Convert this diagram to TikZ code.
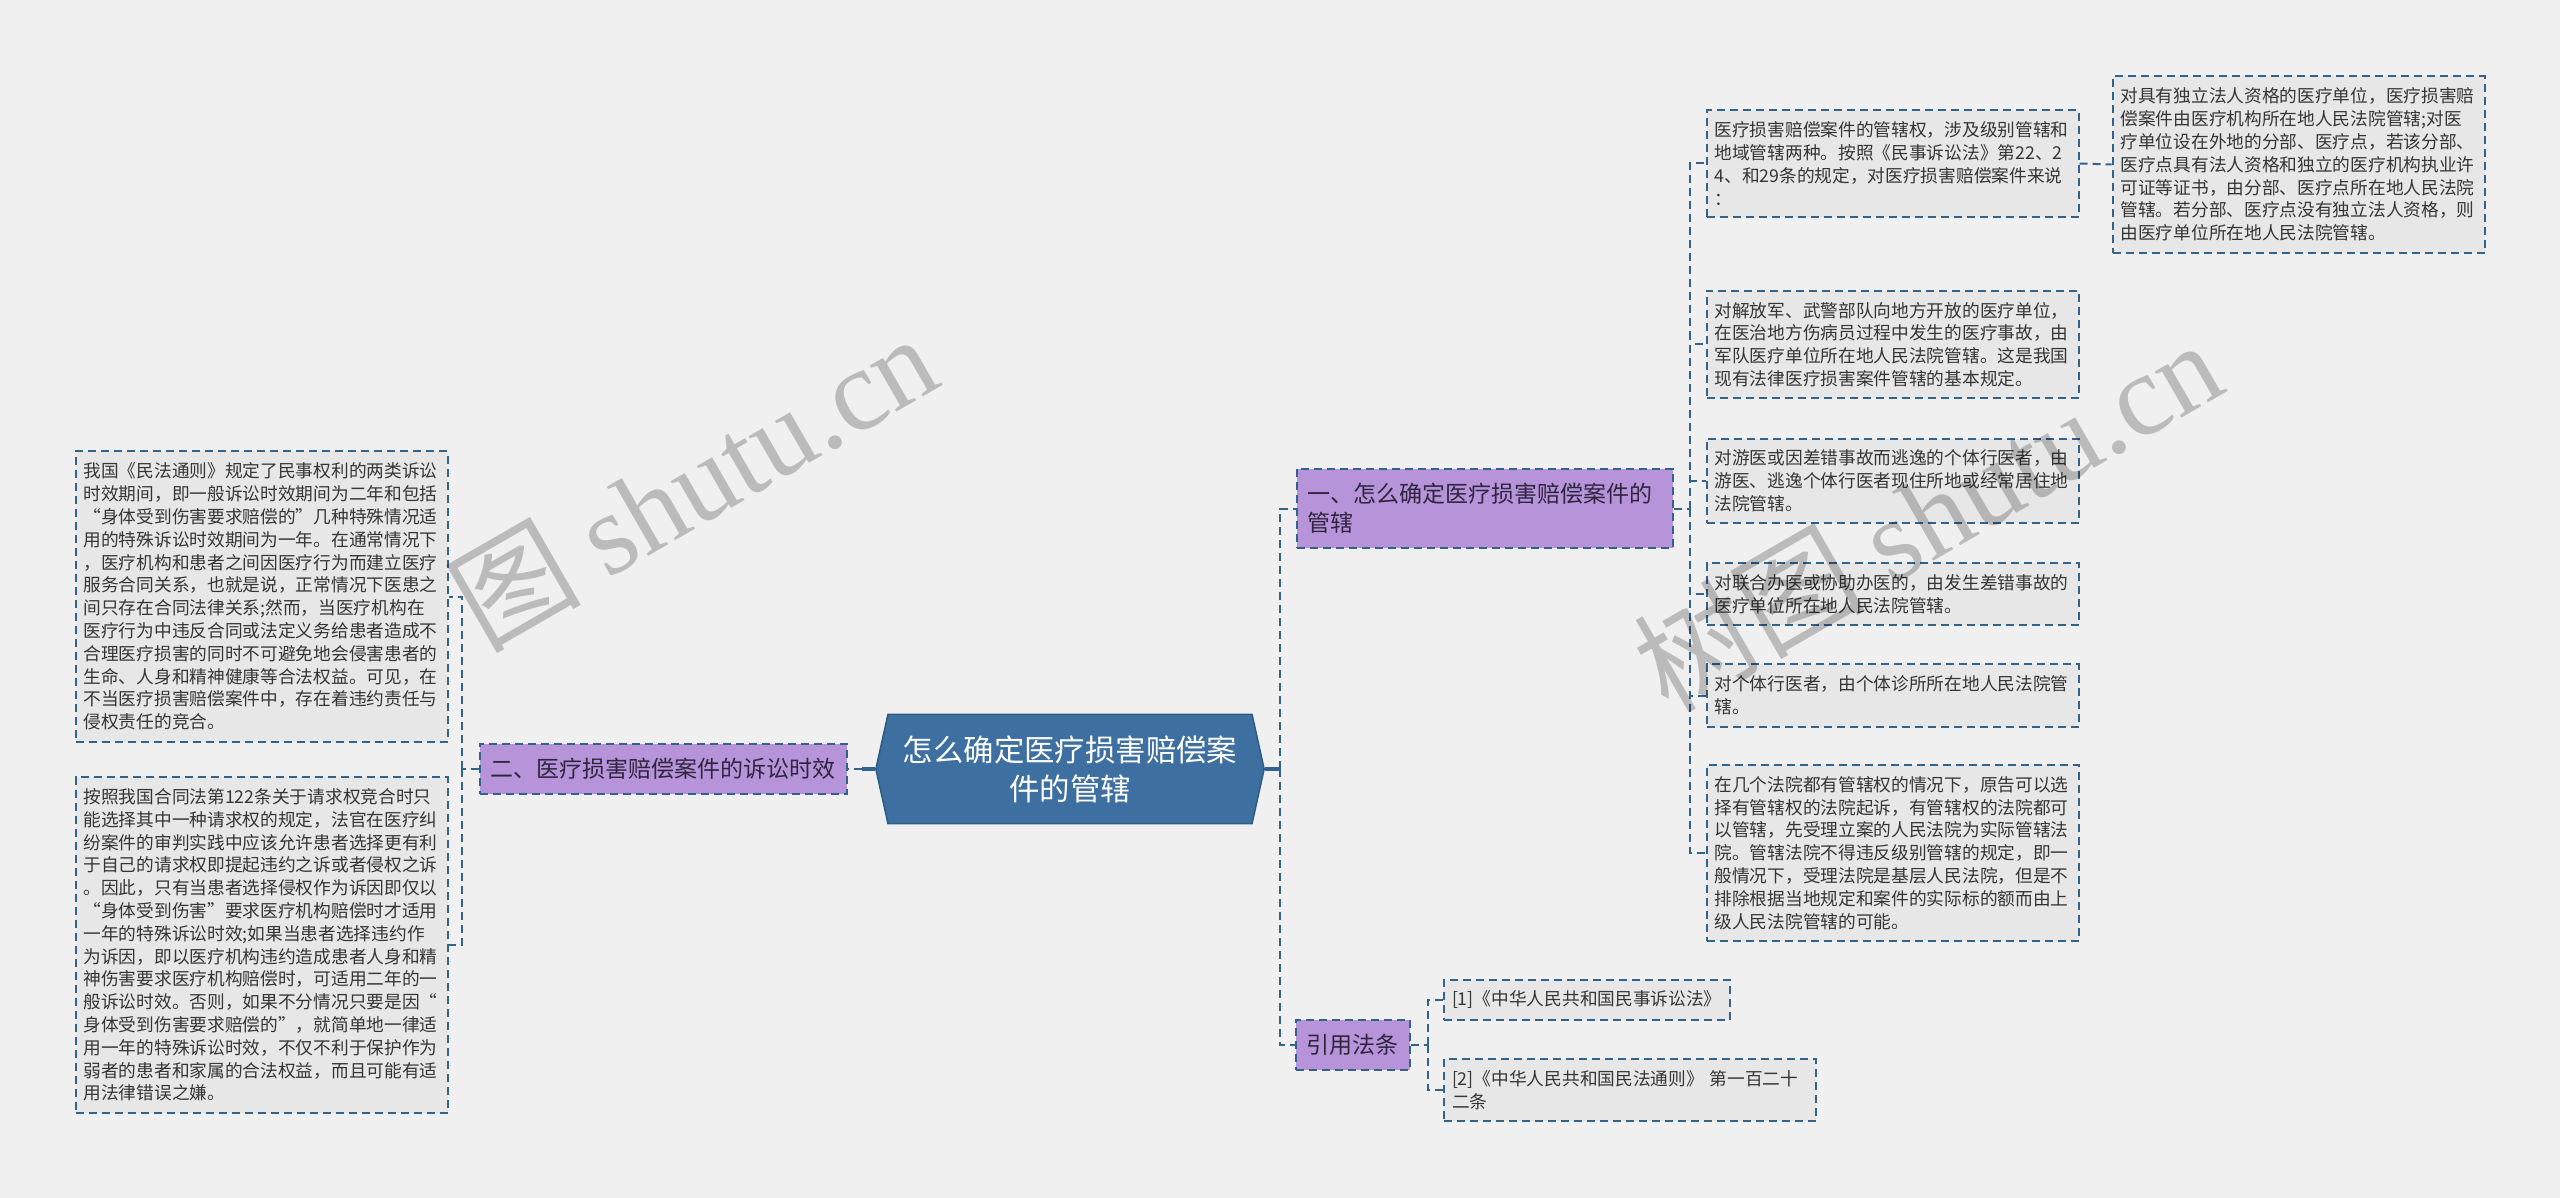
\documentclass[tikz,border=0pt]{standalone}
\usepackage{fontspec}
\setmainfont{Noto Sans CJK SC}
\newfontfamily\wmfont{Liberation Serif}
\usepackage{xcolor}
\usetikzlibrary{shapes.symbols, positioning}

\definecolor{bgcol}{HTML}{F0F0F0}
\definecolor{rootcol}{HTML}{3D6FA0}
\definecolor{rootedge}{HTML}{2D5C89}
\definecolor{topiccol}{HTML}{B794D9}
\definecolor{topictext}{HTML}{2E2540}
\definecolor{linecol}{HTML}{33628D}
\definecolor{notecol}{HTML}{E7E7E7}
\definecolor{textcol}{HTML}{353535}

\begin{document}
\begin{tikzpicture}[
  x=0.5pt, y=-0.5pt,
  rootnode/.style={signal, signal to=west and east, signal pointer angle=155,
    fill=rootcol, draw=rootedge, line width=0.8pt, text=white, align=center,
    font=\fontsize{15.2}{19.5}\selectfont, text width=168pt, inner xsep=7pt, inner ysep=10.5pt},
  topic/.style={rectangle, fill=topiccol, draw=linecol, line width=1pt, dash pattern=on 4pt off 2.5pt,
    text=topictext, align=left, font=\fontsize{11.5}{14.5}\selectfont, inner xsep=5.5pt, inner ysep=7.25pt},
  notebase/.style={rectangle, fill=notecol, draw=linecol, line width=1pt, dash pattern=on 4pt off 2.5pt,
    text=textcol, align=left, font=\fontsize{8.85}{11.4}\selectfont, inner xsep=4pt, inner ysep=5.7pt},
  note/.style={notebase, text width=178pt},
  link/.style={draw=linecol, line width=1pt, dash pattern=on 4pt off 2.5pt},
  mainlink/.style={draw=linecol, line width=1.6pt},
  watermark/.style={text=black, opacity=0.22, rotate=30, font=\fontsize{58}{58}\selectfont}
]
  \fill[bgcol] (0,0) rectangle (2560,1198);
  \useasboundingbox (0,0) rectangle (2560,1198);

  % centre and main topics
  \node[rootnode] (root) at (1070,769) {怎么确定医疗损害赔偿案\\件的管辖};
  \node[topic, text width=177pt] (b1) at (1484.5,508.5) {一、怎么确定医疗损害赔偿案件的\\管辖};
  \node[topic] (b2) at (663,769) {二、医疗损害赔偿案件的诉讼时效};
  \node[topic] (b3) at (1352.5,1045) {引用法条};

  % notes of topic one
  \node[note] (n1) at (1892.5,163.5) {医疗损害赔偿案件的管辖权，涉及级别管辖和\\地域管辖两种。按照《民事诉讼法》第22、2\\4、和29条的规定，对医疗损害赔偿案件来说\\：};
  \node[note] (n1a) at (2298.5,164.5) {对具有独立法人资格的医疗单位，医疗损害赔\\偿案件由医疗机构所在地人民法院管辖;对医\\疗单位设在外地的分部、医疗点，若该分部、\\医疗点具有法人资格和独立的医疗机构执业许\\可证等证书，由分部、医疗点所在地人民法院\\管辖。若分部、医疗点没有独立法人资格，则\\由医疗单位所在地人民法院管辖。};
  \node[note] (n2) at (1892.5,344.5) {对解放军、武警部队向地方开放的医疗单位，\\在医治地方伤病员过程中发生的医疗事故，由\\军队医疗单位所在地人民法院管辖。这是我国\\现有法律医疗损害案件管辖的基本规定。};
  \node[note] (n3) at (1892.5,481) {对游医或因差错事故而逃逸的个体行医者，由\\游医、逃逸个体行医者现住所地或经常居住地\\法院管辖。};
  \node[note] (n4) at (1892.5,594) {对联合办医或协助办医的，由发生差错事故的\\医疗单位所在地人民法院管辖。};
  \node[note] (n5) at (1892.5,695.5) {对个体行医者，由个体诊所所在地人民法院管\\辖。};
  \node[note] (n6) at (1892.5,853) {在几个法院都有管辖权的情况下，原告可以选\\择有管辖权的法院起诉，有管辖权的法院都可\\以管辖，先受理立案的人民法院为实际管辖法\\院。管辖法院不得违反级别管辖的规定，即一\\般情况下，受理法院是基层人民法院，但是不\\排除根据当地规定和案件的实际标的额而由上\\级人民法院管辖的可能。};

  % notes of topic two
  \node[note] (m1) at (261.5,596.5) {我国《民法通则》规定了民事权利的两类诉讼\\时效期间，即一般诉讼时效期间为二年和包括\\“身体受到伤害要求赔偿的”几种特殊情况适\\用的特殊诉讼时效期间为一年。在通常情况下\\，医疗机构和患者之间因医疗行为而建立医疗\\服务合同关系，也就是说，正常情况下医患之\\间只存在合同法律关系;然而，当医疗机构在\\医疗行为中违反合同或法定义务给患者造成不\\合理医疗损害的同时不可避免地会侵害患者的\\生命、人身和精神健康等合法权益。可见，在\\不当医疗损害赔偿案件中，存在着违约责任与\\侵权责任的竞合。};
  \node[note] (m2) at (261.5,945) {按照我国合同法第122条关于请求权竞合时只\\能选择其中一种请求权的规定，法官在医疗纠\\纷案件的审判实践中应该允许患者选择更有利\\于自己的请求权即提起违约之诉或者侵权之诉\\。因此，只有当患者选择侵权作为诉因即仅以\\“身体受到伤害”要求医疗机构赔偿时才适用\\一年的特殊诉讼时效;如果当患者选择违约作\\为诉因，即以医疗机构违约造成患者人身和精\\神伤害要求医疗机构赔偿时，可适用二年的一\\般诉讼时效。否则，如果不分情况只要是因“\\身体受到伤害要求赔偿的”，就简单地一律适\\用一年的特殊诉讼时效，不仅不利于保护作为\\弱者的患者和家属的合法权益，而且可能有适\\用法律错误之嫌。};

  % cited laws
  \node[notebase, anchor=west] (r1) at (1443,1000) {[1]《中华人民共和国民事诉讼法》};
  \node[note, anchor=west] (r2) at (1443,1090) {[2]《中华人民共和国民法通则》 第一百二十\\二条};

  % joints
  \coordinate (rj) at (1280,769);
  \coordinate (lj) at (862,769);
  \coordinate (j1) at (1690,508.5);
  \coordinate (j2) at (462,769);
  \coordinate (j3) at (1428,1045);

  \draw[mainlink] (root.east) -- (rj);
  \draw[mainlink] (root.west) -- (lj);
  \draw[link] (rj) |- (b1.west);
  \draw[link] (rj) |- (b3.west);
  \draw[link] (lj) -- (b2.east);

  \draw[link] (b1.east) -- (j1);
  \foreach \n in {n1,n2,n3,n4,n5,n6}
    \draw[link] (j1) |- (\n.west);
  \draw[link] (n1.east) -- (n1a.west);

  \draw[link] (b2.west) -- (j2);
  \draw[link] (j2) |- (m1.east);
  \draw[link] (j2) |- (m2.east);

  \draw[link] (b3.east) -- (j3);
  \draw[link] (j3) |- (r1.west);
  \draw[link] (j3) |- (r2.west);

  % watermarks
  \node[watermark] (wm1) at (694,482) {图 {\wmfont shutu.cn}};
  \node[watermark] (wm2) at (1927,514) {树图 {\wmfont shutu.cn}};
\end{tikzpicture}
\end{document}
